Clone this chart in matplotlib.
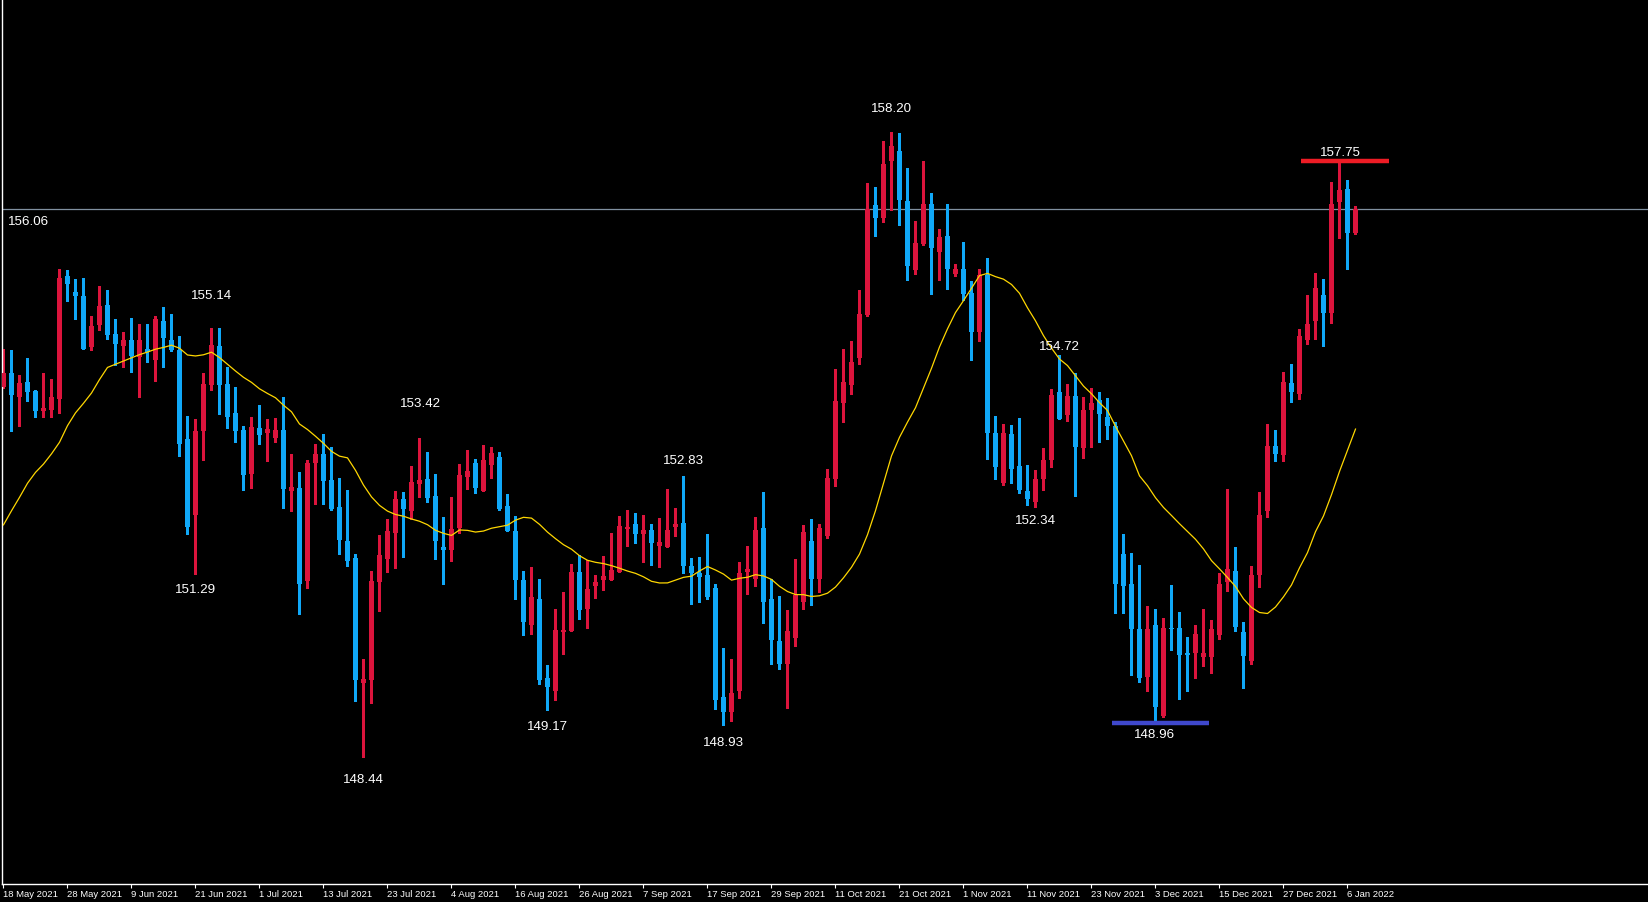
import numpy as np
import matplotlib
matplotlib.use("Agg")
import matplotlib.pyplot as plt

# ---------------- data (daily OHLC, 18 May 2021 - 7 Jan 2022) ----------------
opens = [154.22,154.43,154.06,154.29,154.15,153.84,153.86,154.03,155.95,155.70,
         155.64,154.84,155.18,155.50,155.04,154.86,154.95,154.69,154.81,154.64,
         155.25,154.95,154.79,153.40,152.22,153.53,154.24,154.86,154.26,153.81,
         153.54,152.85,153.57,153.49,153.42,153.54,152.59,152.64,151.18,153.03,
         153.17,152.76,152.34,151.80,151.54,149.59,149.63,151.16,151.52,151.94,
         152.46,152.28,152.70,152.78,152.51,151.71,151.66,152.01,152.81,153.03,
         152.59,152.99,153.12,152.36,151.96,151.20,150.50,150.90,149.67,149.46,
         150.39,150.40,151.32,150.75,151.11,151.20,151.20,151.32,152.00,152.07,
         151.92,151.98,151.73,151.71,152.03,152.09,151.41,151.31,151.27,151.08,
         149.37,149.14,149.46,151.33,151.22,152.01,150.90,150.25,149.88,150.29,
         150.86,151.81,151.22,151.89,152.77,153.97,154.25,154.66,155.34,157.06,
         156.85,157.75,157.90,157.12,156.04,156.45,157.07,156.33,156.58,155.98,
         156.06,155.68,155.07,155.97,153.50,152.72,153.48,152.98,152.59,152.41,
         152.77,153.08,154.13,153.77,154.07,153.26,153.85,154.01,153.74,153.60,
         151.60,151.13,150.43,149.69,150.50,149.08,150.45,150.45,150.06,150.05,
         149.99,149.99,150.34,151.16,151.34,150.39,149.93,151.27,152.27,153.29,
         153.15,154.27,154.10,154.95,155.24,155.65,155.37,157.11,157.31,156.62]

highs = [154.81,154.79,154.40,154.67,154.16,154.43,154.34,156.06,156.04,155.90,
         155.92,155.33,155.79,155.73,155.27,155.07,155.29,155.20,155.20,155.32,
         155.46,155.35,155.01,153.76,153.71,154.44,155.14,155.14,154.52,154.21,
         153.61,153.75,153.94,153.71,153.73,154.06,153.16,152.89,153.07,153.33,
         153.48,153.28,152.79,152.60,151.60,149.96,151.34,151.90,152.15,152.59,
         152.57,152.98,153.42,153.20,152.85,152.18,152.50,153.01,153.23,153.09,
         153.31,153.28,153.20,152.54,152.20,151.34,151.40,151.21,149.87,150.75,
         151.01,151.45,151.59,151.51,151.28,151.57,151.93,152.20,152.29,152.25,
         152.21,152.07,152.17,152.62,152.32,152.83,151.54,151.56,151.92,151.13,
         150.14,149.96,151.48,151.73,152.18,152.57,151.21,150.95,150.73,151.52,
         152.05,152.15,152.07,152.94,154.50,154.81,154.93,155.73,157.40,157.34,
         158.05,158.20,158.18,157.64,156.80,157.75,157.25,156.68,157.07,156.13,
         156.48,155.87,156.06,156.23,153.76,153.64,153.62,153.73,153.00,152.92,
         153.26,154.19,154.72,154.26,154.43,154.05,154.20,154.13,154.04,153.66,
         151.91,151.62,151.43,150.79,150.74,150.61,151.12,150.70,150.31,150.50,
         150.75,150.57,151.31,152.62,151.71,150.54,151.42,152.58,153.64,153.54,
         154.45,154.57,155.12,155.65,155.99,155.90,157.42,157.75,157.45,157.04]

lows = [154.20,153.52,153.61,153.99,153.74,153.75,153.75,153.81,155.56,155.27,
        154.80,154.79,155.11,154.96,154.55,154.53,154.45,154.05,154.61,154.30,
        154.52,154.78,153.13,151.92,151.29,153.08,154.16,153.79,153.58,153.36,
        152.60,152.64,153.32,153.06,153.36,152.32,152.27,150.66,151.08,152.39,
        152.39,152.29,151.60,151.41,149.31,148.44,149.28,150.72,151.33,151.39,
        151.56,152.15,152.49,152.42,151.52,151.14,151.50,151.94,152.62,152.56,
        152.59,152.79,152.29,151.96,150.90,150.34,150.36,149.57,149.17,149.32,
        150.04,150.40,150.59,150.45,150.92,151.04,151.20,151.32,151.73,151.78,
        151.48,151.43,151.40,151.71,151.89,151.30,150.82,150.86,150.90,149.18,
        148.93,149.00,149.35,150.98,151.11,150.52,149.89,149.80,149.20,150.17,
        150.74,150.80,151.01,151.86,152.66,153.66,154.10,154.57,155.32,156.58,
        156.79,156.98,156.75,155.88,155.98,156.43,155.67,155.89,155.75,155.95,
        155.57,154.64,154.94,153.09,152.78,152.69,152.72,152.56,152.37,152.34,
        152.60,152.97,153.71,153.69,152.51,153.10,153.27,153.35,153.40,150.69,
        150.68,149.71,149.61,149.47,148.96,149.05,150.11,149.34,149.47,149.66,
        149.86,149.75,150.27,151.03,150.40,149.51,149.88,151.09,152.19,153.05,
        153.06,153.98,154.03,154.89,154.96,154.85,155.21,156.54,156.06,156.60]

closes = [154.43,154.09,154.28,154.13,153.84,153.89,154.06,155.92,155.83,155.64,
          154.81,155.17,155.48,155.02,154.88,154.95,154.70,154.95,154.76,155.27,
          154.98,154.79,153.33,152.02,153.53,154.26,154.87,154.24,153.75,153.52,
          152.84,153.59,153.47,153.56,153.54,152.62,152.65,151.13,153.03,153.17,
          152.75,152.30,151.83,151.49,149.63,149.65,151.18,151.59,151.96,152.46,
          152.30,152.73,152.76,152.48,151.80,151.66,152.00,152.84,152.90,152.64,
          153.07,153.18,152.31,151.96,151.20,150.54,150.93,149.64,149.53,150.42,
          150.41,151.32,150.73,151.05,151.17,151.26,151.35,152.04,152.02,151.92,
          151.98,151.78,151.79,151.98,152.07,151.41,151.30,151.25,150.93,149.33,
          149.14,149.43,151.31,151.37,151.98,150.86,150.26,149.88,150.40,150.97,
          151.95,151.21,152.01,152.79,153.99,154.29,154.60,155.36,156.99,156.85,
          157.70,157.98,157.13,156.11,156.47,157.07,156.38,156.56,156.05,156.06,
          155.67,155.07,155.96,153.50,152.97,153.50,152.94,152.60,152.46,152.78,
          153.07,154.09,153.71,154.07,153.27,153.86,153.97,153.79,153.60,151.13,
          151.10,150.43,149.67,150.43,149.22,150.45,150.43,150.03,150.02,150.35,
          150.06,150.43,151.14,151.37,150.46,150.01,151.27,152.21,153.29,153.16,
          154.29,154.13,155.01,155.20,155.76,155.37,157.07,157.29,156.62,156.99]

# 20-period moving average as drawn for the first 19 bars (history before 18 May)
ma_head = [152.06,152.28,152.49,152.71,152.88,153.01,153.17,153.35,153.61,153.81,
           153.96,154.12,154.33,154.52,154.57,154.62,154.67,154.72,154.76]
MA_PERIOD = 20

tick_labels = ["18 May 2021", "28 May 2021", "9 Jun 2021", "21 Jun 2021", "1 Jul 2021",
               "13 Jul 2021", "23 Jul 2021", "4 Aug 2021", "16 Aug 2021", "26 Aug 2021",
               "7 Sep 2021", "17 Sep 2021", "29 Sep 2021", "11 Oct 2021", "21 Oct 2021",
               "1 Nov 2021", "11 Nov 2021", "23 Nov 2021", "3 Dec 2021", "15 Dec 2021",
               "27 Dec 2021", "6 Jan 2022"]
TICK_EVERY = 8

swing_labels = ["158.20", "157.75", "155.14", "154.72", "153.42", "152.83",
                "152.34", "151.29", "149.17", "148.96", "148.93", "148.44"]
price_line_label = "156.06"
resistance_level = 157.75
support_level = 148.96

# ---------------- layout / style ----------------
BG = "black"
UP = "#DC143C"
DOWN = "#10A8F8"
MA_COLOR = "#FFD700"

# label placements (bar index, price)
swing_pos = [(111.0, 158.57), (167.1, 157.89), (26.0, 155.65), (132.0, 154.86),
             (52.1, 153.96), (85.0, 153.08), (129.0, 152.13), (24.0, 151.05),
             (68.0, 148.92), (143.9, 148.79), (90.0, 148.66), (45.0, 148.09)]

W, H = 1649, 903
fig = plt.figure(figsize=(W / 100, H / 100), dpi=100, facecolor=BG)
left_px, bottom_px = 2.3, 903 - 885.3
ax = fig.add_axes([left_px / W, bottom_px / H, 1 - left_px / W, 1 - bottom_px / H])
ax.set_facecolor(BG)

n = len(closes)
x = np.arange(n)
o = np.array(opens); c = np.array(closes); h = np.array(highs); l = np.array(lows)
up = c >= o
colors = np.where(up, UP, DOWN)

# wicks
ax.vlines(x, l, h, colors=colors, linewidth=1.0, zorder=2, antialiased=False)
# bodies
body_bottom = np.minimum(o, c)
body_h = np.maximum(np.abs(c - o), 0.02)
ax.bar(x, body_h, bottom=body_bottom, width=0.66, color=colors, linewidth=0,
       zorder=3, antialiased=False)

# moving average
ma = np.empty(n)
ma[:MA_PERIOD - 1] = ma_head
for i in range(MA_PERIOD - 1, n):
    ma[i] = np.mean(c[i - MA_PERIOD + 1:i + 1])
ax.plot(x, ma, color=MA_COLOR, linewidth=0.9, zorder=4)

# current price line
ax.axhline(c[-1], color="#8090A0", linewidth=0.9, zorder=1)

# level markers
ax.plot([162.2, 173.2], [resistance_level] * 2, color="#EE1C25", linewidth=3.2,
        solid_capstyle="butt", zorder=5)
ax.plot([138.6, 150.7], [support_level] * 2, color="#3F48CC", linewidth=3.2,
        solid_capstyle="butt", zorder=5)

fam = ["Liberation Sans", "DejaVu Sans"]
for txt, (bx, py) in zip(swing_labels, swing_pos):
    ax.text(bx, py, txt, color="white", fontsize=9.6, family=fam,
            ha="center", va="center", zorder=6)
ax.text(0.61, 156.81, price_line_label, color="white", fontsize=9.6, family=fam,
        ha="left", va="center", zorder=6)

ax.set_xlim(-0.15, (W - 3.5) / 8)
ax.set_ylim(158.20 - (885.3 - 132.9) / 64, 158.20 + 132.9 / 64)

ticks = np.arange(0, n, TICK_EVERY)[:len(tick_labels)]
ax.set_xticks(ticks)
ax.set_xticklabels(tick_labels, ha="left", family=["Liberation Sans", "DejaVu Sans"],
                   fontsize=6.8)
ax.tick_params(axis="x", colors="white", length=3, width=0.8, pad=0.5, direction="out")
ax.set_yticks([])

for side in ("top", "right"):
    ax.spines[side].set_visible(False)
for side in ("left", "bottom"):
    ax.spines[side].set_color("white")
    ax.spines[side].set_linewidth(1.0)

fig.savefig("out.png", dpi=100, facecolor=BG)
